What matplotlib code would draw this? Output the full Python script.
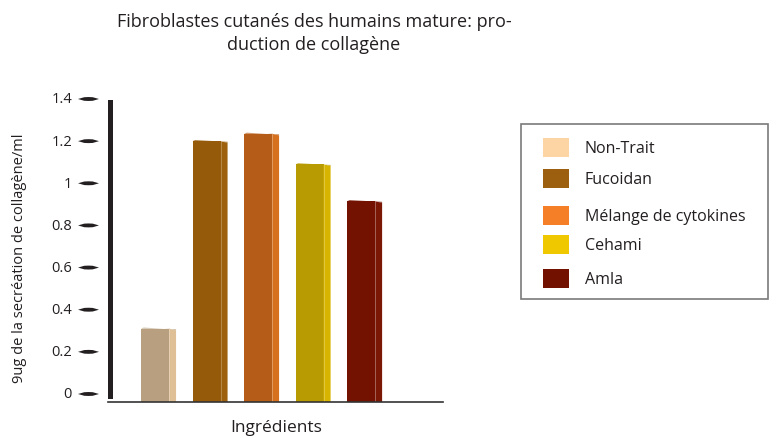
import matplotlib
matplotlib.use("Agg")
import matplotlib.pyplot as plt
from matplotlib.patches import Rectangle, Polygon
from matplotlib.transforms import blended_transform_factory

plt.rcParams['font.family'] = ['Open Sans', 'DejaVu Sans']

categories = ["Non-Trait", "Fucoidan", "Mélange de cytokines", "Cehami", "Amla"]
values = [0.31, 1.20, 1.235, 1.09, 0.915]
front_colors = ["#b89f80", "#955a0a", "#b55c18", "#b89b02", "#731200"]
side_colors = ["#dfc096", "#9e620f", "#d4701e", "#d6b400", "#7a1705"]
legend_colors = ["#fdd5a5", "#9c5e0f", "#f47f26", "#f0c800", "#731100"]
yticks = [0, 0.2, 0.4, 0.6, 0.8, 1.0, 1.2, 1.4]
ytick_labels = ["0", "0.2", "0.4", "0.6", "0.8", "1", "1.2", "1.4"]

W, H = 776, 439
fig = plt.figure(figsize=(W / 100, H / 100), dpi=100)
ax = fig.add_axes([108 / W, 1 - 403 / H, (443 - 108) / W, (403 - 100) / H])
ymin, ymax = -0.038, 1.40
ax.set_xlim(-0.913, 5.59)
ax.set_ylim(ymin, ymax)
ax.axis("off")

# bars with a narrow side face for a pseudo-3D look
fw, sw = 0.544, 0.136
for i, (v, fc, sc) in enumerate(zip(values, front_colors, side_colors)):
    x0 = i - fw / 2
    ax.add_patch(Rectangle((x0, ymin), fw, v - ymin, facecolor=fc, edgecolor="none"))
    ax.add_patch(Polygon([(x0 + fw, ymin), (x0 + fw + sw, ymin), (x0 + fw + sw, v - 0.008),
                          (x0 + fw, v)], closed=True, facecolor=sc, edgecolor="none"))
    ax.add_patch(Polygon([(x0, v), (x0 + 0.05, v + 0.005), (x0 + fw + sw, v - 0.003),
                          (x0 + fw + sw, v - 0.008), (x0 + fw, v)], closed=True,
                         facecolor=fc, edgecolor="none", alpha=0.8))
    ax.plot([x0 + fw, x0 + fw], [ymin, v], color="white", lw=0.5, alpha=0.35)

# baseline
ax.plot([-0.913, 5.59], [ymin, ymin], color="#333333", lw=1.2, clip_on=False)

# thick vertical axis bar
ax.add_patch(Rectangle((-0.913, -0.022), 0.095, 1.415, facecolor="#231f20",
                       edgecolor="none", clip_on=False))

# tapered tick dashes and labels, drawn left of the axis
trans = blended_transform_factory(fig.transFigure, ax.transData)
for t, lab in zip(yticks, ytick_labels):
    xl, xr = 78 / W, 99 / W
    xm = (xl + xr) / 2
    dy = 0.0085
    ax.add_patch(Polygon([(xl, t), (xl + 0.3 * (xr - xl), t + dy), (xm, t + dy * 1.1),
                          (xl + 0.7 * (xr - xl), t + dy), (xr, t),
                          (xl + 0.7 * (xr - xl), t - dy), (xm, t - dy * 1.1),
                          (xl + 0.3 * (xr - xl), t - dy)], closed=True,
                         transform=trans, facecolor="#231f20", edgecolor="none",
                         clip_on=False))
    fig.text(72 / W, t, lab, transform=trans, ha="right", va="center", fontsize=10.5,
             color="#231f20")

# title and axis labels
fig.text(314 / W, 1 - 22 / H, "Fibroblastes cutanés des humains mature: pro-",
         ha="center", va="center", fontsize=13, color="#231f20")
fig.text(314 / W, 1 - 45 / H, "duction de collagène",
         ha="center", va="center", fontsize=13, color="#231f20")
fig.text(276 / W, 1 - 428 / H, "Ingrédients", ha="center", va="center",
         fontsize=12.5, color="#231f20")
fig.text(20 / W, 1 - 258 / H, "9ug de la secréation de collagène/ml", ha="center",
         va="center", rotation=90, fontsize=10.5, color="#231f20")

# legend box
fig.patches.append(Rectangle((521 / W, 1 - 300 / H), (768 - 521) / W, (300 - 125) / H,
                             transform=fig.transFigure, facecolor="white",
                             edgecolor="#7a7a7a", lw=1.2))
rows = [149, 180, 217, 246, 280]
for y, name, c in zip(rows, categories, legend_colors):
    fig.patches.append(Rectangle((543 / W, 1 - (y + 9) / H), 26 / W, 19 / H,
                                 transform=fig.transFigure, facecolor=c, edgecolor="none"))
    fig.text(585 / W, 1 - y / H, name, ha="left", va="center", fontsize=11.5,
             color="#231f20")

fig.savefig("out.png", dpi=100)
